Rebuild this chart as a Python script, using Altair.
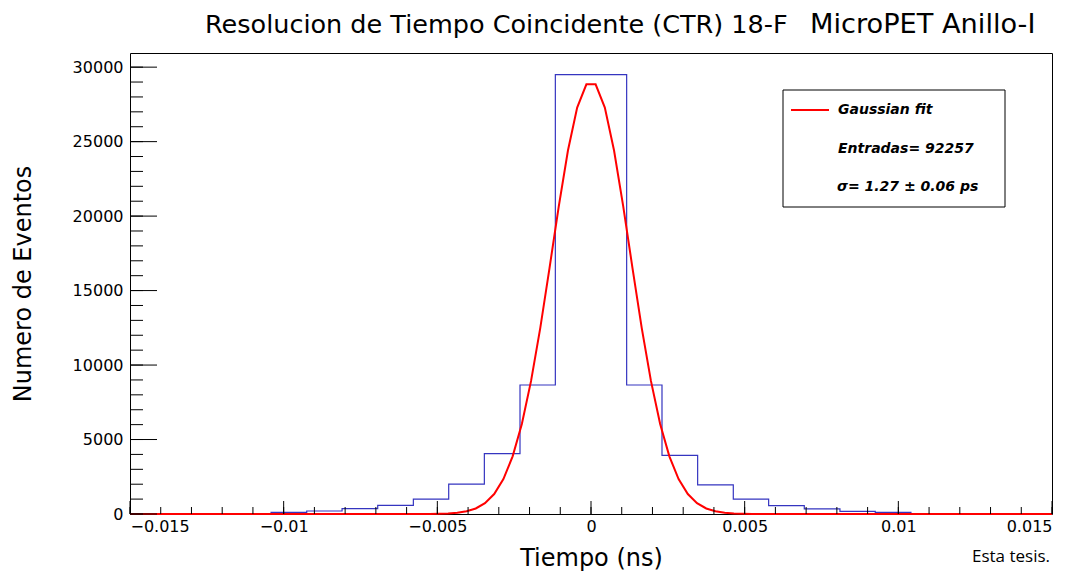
import altair as alt
import pandas as pd

# ---- data ----
bin_edges = [-0.01041, -0.00925, -0.00810, -0.00694, -0.00578, -0.00463, -0.00347,
             -0.00231, -0.00116, 0.0, 0.00116, 0.00231, 0.00347, 0.00463, 0.00578,
             0.00694, 0.00810, 0.00925, 0.01041]
bin_counts = [110, 200, 360, 580, 1000, 2010, 4050, 8660, 29500,
              29500, 8660, 3940, 1950, 1000, 560, 340, 180, 110]

fit_x = [-0.015, -0.00585, -0.00555, -0.00525, -0.00495, -0.00465, -0.00435, -0.00405,
         -0.00375, -0.00345, -0.00315, -0.00285, -0.00255, -0.00225, -0.00195,
         -0.00165, -0.00135, -0.00105, -0.00075, -0.00045, -0.00015,
         0.00015, 0.00045, 0.00075, 0.00105, 0.00135, 0.00165, 0.00195, 0.00225,
         0.00255, 0.00285, 0.00315, 0.00345, 0.00375, 0.00405, 0.00435, 0.00465,
         0.00495, 0.00525, 0.00555, 0.00585, 0.015]
fit_y = [0, 1, 2, 6, 15, 36, 82, 180, 371, 726, 1341, 2342, 3870, 6047, 8937,
         12491, 16511, 20640, 24402, 27283, 28848,
         28848, 27283, 24402, 20640, 16511, 12491, 8937, 6047, 3870, 2342, 1341,
         726, 371, 180, 82, 36, 15, 6, 2, 1, 0]

x_major = [-0.015, -0.01, -0.005, 0.0, 0.005, 0.01, 0.015]
x_minor = [round(-0.015 + 0.001 * i, 3) for i in range(31)]
y_major = [0, 5000, 10000, 15000, 20000, 25000, 30000]
y_minor = [1000 * i for i in range(31)]

title_left = "Resolucion de Tiempo Coincidente (CTR) 18-F"
title_right = "MicroPET Anillo-I"
legend_lines = ["Gaussian fit", "Entradas= 92257", "σ= 1.27  ±  0.06 ps"]
x_title = "Tiempo (ns)"
y_title = "Numero de Eventos"
credit = "Esta tesis."

# ---- layout ----
W, H = 922, 461
XDOM = [-0.015, 0.015]
YDOM = [0, 30950]
xs = alt.Scale(domain=XDOM, nice=False, zero=False)
ys = alt.Scale(domain=YDOM, nice=False, zero=False)

x_axis = alt.Axis(
    values=x_major, format=".3~f", ticks=False, grid=False, domain=False,
    labelFontSize=16, labelFont="DejaVu Sans", labelColor="black", labelPadding=4,
    title=x_title, titleFontSize=24, titleFont="DejaVu Sans", titleFontWeight="normal",
    titleColor="black", titlePadding=12)
y_axis = alt.Axis(
    values=y_major, format="d", ticks=False, grid=False, domain=False,
    labelFontSize=16, labelFont="DejaVu Sans", labelColor="black", labelPadding=7,
    title=y_title, titleFontSize=24, titleFont="DejaVu Sans", titleFontWeight="normal",
    titleColor="black", titlePadding=37)

hist_x = [XDOM[0]] + bin_edges + [XDOM[1]]
hist_y = [0] + bin_counts + [0, 0]
hist_df = pd.DataFrame({"t": hist_x, "n": hist_y})
fit_df = pd.DataFrame({"t": fit_x, "n": fit_y})

hist = alt.Chart(hist_df).mark_line(
    interpolate="step-after", color="#3535c0", strokeWidth=1.2
).encode(
    x=alt.X("t:Q", scale=xs, axis=x_axis),
    y=alt.Y("n:Q", scale=ys, axis=y_axis),
)

fit = alt.Chart(fit_df).mark_line(color="#ff0000", strokeWidth=2).encode(
    x=alt.X("t:Q", scale=xs, axis=x_axis),
    y=alt.Y("n:Q", scale=ys, axis=y_axis),
)

def xticks(vals, length):
    return alt.Chart(pd.DataFrame({"t": vals})).mark_rule(color="black", strokeWidth=1).encode(
        x=alt.X("t:Q", scale=xs, axis=x_axis),
        y=alt.value(H), y2=alt.value(H - length))

def yticks(vals, length):
    return alt.Chart(pd.DataFrame({"n": vals})).mark_rule(color="black", strokeWidth=1).encode(
        y=alt.Y("n:Q", scale=ys, axis=y_axis),
        x=alt.value(0), x2=alt.value(length))

# legend box
box = alt.Chart(pd.DataFrame({"a": [0]})).mark_rect(
    fill="white", stroke="black", strokeWidth=1
).encode(x=alt.value(653), x2=alt.value(875), y=alt.value(37), y2=alt.value(154))
sample = alt.Chart(pd.DataFrame({"a": [0]})).mark_rule(color="#ff0000", strokeWidth=2).encode(
    x=alt.value(661), x2=alt.value(699), y=alt.value(57))

def txt(s, x, y, size, font="DejaVu Sans", style="normal", weight="normal",
        align="left", color="black", angle=0):
    return alt.Chart(pd.DataFrame({"s": [s]})).mark_text(
        align=align, baseline="middle", fontSize=size, font=font, fontStyle=style,
        fontWeight=weight, color=color, angle=angle
    ).encode(text="s:N", x=alt.value(x), y=alt.value(y))

legend_text = [
    txt(legend_lines[0], 708, 57, 14, style="italic", weight="bold"),
    txt(legend_lines[1], 708, 96, 14, style="italic", weight="bold"),
    txt(legend_lines[2], 707, 134, 14, style="italic", weight="bold"),
]

titles = [
    txt(title_left, 75, -28, 25.5),
    txt(title_right, 680, -28, 27.2),
    txt(credit, 842, 43 + H, 17, font="Open Sans"),
]

chart = alt.layer(
    hist, fit,
    xticks(x_minor, 7), xticks(x_major, 13),
    yticks(y_minor, 13), yticks(y_major, 27),
    box, sample, *legend_text, *titles,
).properties(
    width=W, height=H,
    autosize=alt.AutoSizeParams(type="none"),
    padding={"left": 130, "top": 53, "right": 24, "bottom": 57},
).configure_view(stroke="black", strokeWidth=1)

chart.save("out.html", embed_options={"renderer": "svg", "actions": False})
